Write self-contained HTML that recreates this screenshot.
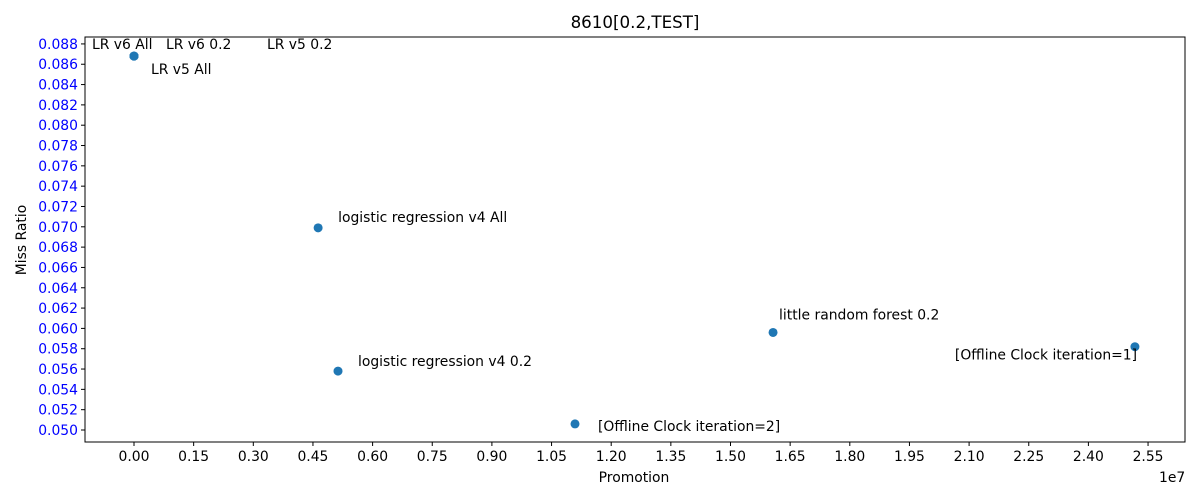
<!DOCTYPE html>
<html><head><meta charset="utf-8"><style>
body{margin:0;background:#fff;font-family:"DejaVu Sans","Liberation Sans",sans-serif;}
svg text{font-family:"DejaVu Sans","Liberation Sans",sans-serif;}
</style></head><body>
<svg id="c" width="1200" height="500"></svg>
<script>
const labels=["LR v6 All","LR v6 0.2","LR v5 0.2","LR v5 All","logistic regression v4 All","logistic regression v4 0.2","[Offline Clock iteration=2]","little random forest 0.2","[Offline Clock iteration=1]"];
const xVals=[0,0,0,0,4.63e6,5.13e6,1.109e7,1.607e7,2.517e7];
const yVals=[0.0868,0.0868,0.0868,0.0868,0.0699,0.0558,0.0506,0.0596,0.0582];
const labelDx=[-42,32,133,17,20,20,23,6,-180];
const labelDy=[-7,-7,-7,18,-6,-5,7,-13,13];
const xTicks=[0,0.15,0.30,0.45,0.60,0.75,0.90,1.05,1.20,1.35,1.50,1.65,1.80,1.95,2.10,2.25,2.40,2.55];
const yTicks=[0.050,0.052,0.054,0.056,0.058,0.060,0.062,0.064,0.066,0.068,0.070,0.072,0.074,0.076,0.078,0.080,0.082,0.084,0.086,0.088];
const L=85,R=1185,T=37,B=442;
const FS=13.9;
const sx=v=>134+(v/1e7)/0.15*59.65;
const sy=v=>430-(v-0.050)/0.002*20.32;
const svg=document.getElementById('c');const NS='http://www.w3.org/2000/svg';
function mk(t,a,p){const e=document.createElementNS(NS,t);for(const k in a)e.setAttribute(k,a[k]);(p||svg).appendChild(e);return e;}
let e=mk('rect',{x:L,y:T,width:R-L,height:B-T,fill:'none',stroke:'#000','stroke-width':1});


xTicks.forEach(t=>{const x=sx(t*1e7);
 let l=mk('line',{x1:x,x2:x,y1:B,y2:B+4,stroke:'#000'});
 
 
 let tx=mk('text',{x:x,y:B+19,'text-anchor':'middle','font-size':FS});tx.textContent=t.toFixed(2);
 
 
});
yTicks.forEach(t=>{const y=sy(t);
 let l=mk('line',{x1:L-4,x2:L,y1:y,y2:y,stroke:'#000'});
 
 
 let tx=mk('text',{x:L-7,y:y+5,'text-anchor':'end','font-size':FS,fill:'#0000ff'});tx.textContent=t.toFixed(3);
 
 
});
xVals.forEach((v,i)=>{const x=sx(v),y=sy(yVals[i]);
 let c=mk('circle',{cx:x,cy:y,r:4.5,fill:'#1f77b4'});
 
 
 let tx=mk('text',{x:x+labelDx[i],y:y+labelDy[i],'font-size':FS});tx.textContent=labels[i];
 
 
});
let t=mk('text',{x:635,y:28,'text-anchor':'middle','font-size':16.7});t.textContent='8610[0.2,TEST]';


t=mk('text',{x:634,y:482,'text-anchor':'middle','font-size':FS});t.textContent='Promotion';


t=mk('text',{x:1159,y:482,'font-size':FS});t.textContent='1e7';


t=mk('text',{x:26,y:240,'text-anchor':'middle','font-size':FS,transform:'rotate(-90 26 240)'});t.textContent='Miss Ratio';


</script>
</body></html>
